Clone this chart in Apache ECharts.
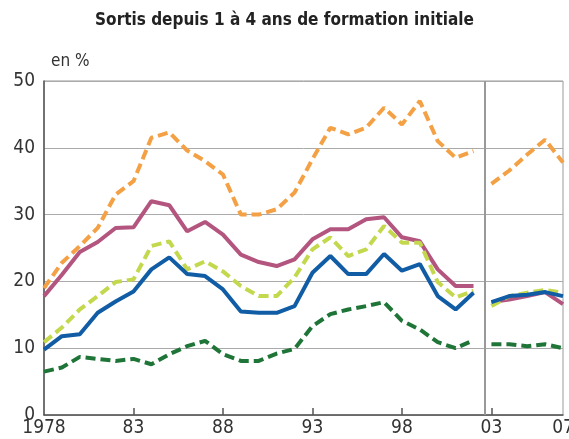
<!DOCTYPE html>
<html>
<head>
<meta charset="utf-8">
<script src="https://cdn.jsdelivr.net/npm/echarts@6/dist/echarts.min.js"></script>
<style>
  html, body { margin: 0; padding: 0; background: #fff; }
  #chart { width: 569px; height: 439px; }
</style>
</head>
<body>
<div id="chart"></div>
<script>
// years
const years1 = [1978,1979,1980,1981,1982,1983,1984,1985,1986,1987,1988,1989,1990,
  1991,1992,1993,1994,1995,1996,1997,1998,1999,2000,2001,2002]
const years2 = [2003,2004,2005,2006,2007]

// series before / after the break (en %)
const orange1 = [19,22.8,25.3,28,33,35,41.5,42.3,39.6,38,36,30,30,30.8,33.3,38.3,43,42,43,46,43.5,47,41,38.5,39.5]
const orange2 = [34.6,36.6,39,41.2,37.8]
const purple1 = [17.8,21,24.4,25.9,28,28.1,32,31.4,27.5,28.9,27,24,22.9,22.3,23.3,26.3,27.8,27.8,29.3,29.6,26.6,26,21.8,19.3,19.3]
const purple2 = [16.9,17.3,17.8,18.4,16.6]
const lgreen1 = [10.9,13.1,15.8,17.8,19.9,20.3,25.3,26,21.8,23,21.5,19.3,17.8,17.8,20.6,24.8,26.6,23.8,24.8,28.3,25.8,25.8,19.9,17.6,18.6]
const lgreen2 = [16.3,17.8,18.3,18.7,18.3]
const blue1 = [9.8,11.8,12.1,15.3,17,18.5,21.8,23.6,21.1,20.8,18.8,15.5,15.3,15.3,16.3,21.3,23.8,21.1,21.1,24.1,21.6,22.6,17.8,15.8,18.3]
const blue2 = [16.9,17.8,18,18.4,17.8]
const dgreen1 = [6.5,7.1,8.7,8.4,8.1,8.4,7.6,9.1,10.3,11.1,9.1,8.1,8.1,9.2,9.9,13.3,15.1,15.8,16.3,16.9,14.1,12.8,10.9,10,11.2]
const dgreen2 = [10.6,10.6,10.3,10.6,10]

const xLabelYears = [1978,1983,1988,1993,1998,2003,2007]
const xTickYears = [1983,1988,1993,1998,2003]
const breakYear = 2002.6

const font = "'Liberation Sans Narrow', 'DejaVu Sans Condensed', 'Liberation Sans', sans-serif"

function pairs(xs, ys){
    return xs.map((x, i) => [x, ys[i]])
}

function line(name, xs, ys, color, dashed){
    return {
        name: name,
        type: 'line',
        data: pairs(xs, ys),
        symbol: 'none',
        smooth: false,
        lineStyle: {
            color: color,
            width: 4,
            type: dashed ? [10, 5] : 'solid'
        },
        silent: true,
        animation: false
    }
}

const myChart = echarts.init(document.getElementById('chart'))
myChart.setOption({
    animation: false,
    title: {
        text: 'Sortis depuis 1 à 4 ans de formation initiale',
        left: 'center',
        top: 7,
        textStyle: { fontFamily: font, fontSize: 17, fontWeight: 'bold', color: '#222' }
    },
    graphic: [{
        type: 'text',
        left: 51,
        top: 53,
        style: { text: 'en %', fontFamily: font, fontSize: 17, fill: '#333' }
    }],
    grid: {
        left: 44, right: 6, top: 81, bottom: 24,
        outerBoundsMode: 'none',
        containLabel: false,
        show: true, borderColor: '#999', borderWidth: 1
    },
    xAxis: {
        type: 'value',
        min: 1978,
        max: 2007,
        axisLine: { show: true, lineStyle: { color: '#555', width: 1.5 } },
        axisTick: {
            show: true, inside: true, length: 7,
            customValues: xTickYears,
            lineStyle: { color: '#555', width: 1.5 }
        },
        axisLabel: {
            customValues: xLabelYears,
            formatter: v => v === 1978 ? '1978' : String(v % 100).padStart(2, '0'),
            fontFamily: font, fontSize: 19, color: '#333', margin: 4
        },
        splitLine: { show: false }
    },
    yAxis: {
        type: 'value',
        min: 0,
        max: 50,
        interval: 10,
        axisLine: { show: true, lineStyle: { color: '#555', width: 1.5 } },
        axisTick: { show: false },
        axisLabel: { fontFamily: font, fontSize: 19, color: '#333', margin: 9 },
        splitLine: { lineStyle: { color: '#aaa', width: 1 } }
    },
    series: [
        line('orange', years1, orange1, '#F4A044', true),
        line('orange', years2, orange2, '#F4A044', true),
        line('violet', years1, purple1, '#B3557F', false),
        line('violet', years2, purple2, '#B3557F', false),
        line('vert clair', years1, lgreen1, '#C3D84C', true),
        line('vert clair', years2, lgreen2, '#C3D84C', true),
        line('bleu', years1, blue1, '#105CA5', false),
        line('bleu', years2, blue2, '#105CA5', false),
        line('vert', years1, dgreen1, '#1E7537', true),
        {
            ...line('vert', years2, dgreen2, '#1E7537', true),
            markLine: {
                silent: true,
                symbol: 'none',
                label: { show: false },
                lineStyle: { color: '#999', width: 2, type: 'solid' },
                data: [{ xAxis: breakYear }]
            }
        }
    ]
})
</script>
</body>
</html>
